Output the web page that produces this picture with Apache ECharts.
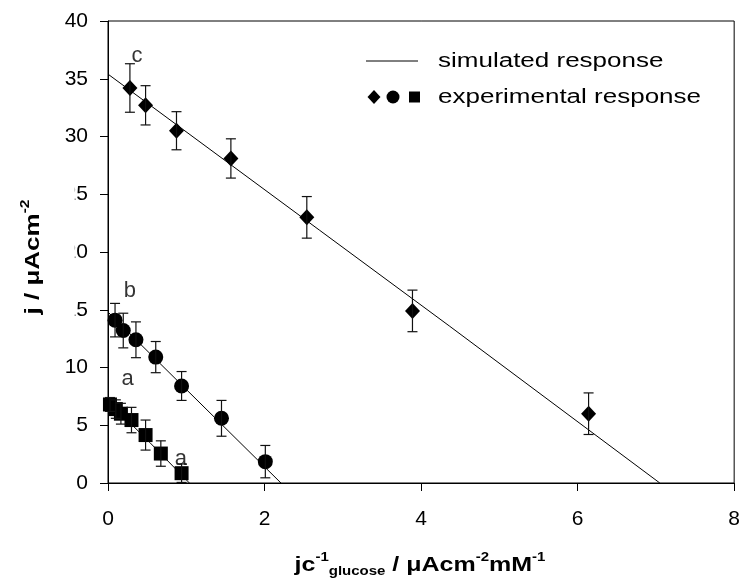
<!DOCTYPE html>
<html>
<head>
<meta charset="utf-8">
<script src="https://cdn.jsdelivr.net/npm/echarts@6/dist/echarts.min.js"></script>
<style>
  html, body { margin: 0; padding: 0; background: #fff; }
  #chart { width: 743px; height: 582px; }
</style>
</head>
<body>
<div id="chart"></div>
<script>
// Curve c (diamonds): x = jc^-1, y = j, with error half-widths
const cX   = [0.28, 0.48, 0.875, 1.57, 2.54, 3.89, 6.14];
const cY   = [34.2, 32.7, 30.5, 28.1, 23.0, 14.9, 6.0];
const cErr = [2.1, 1.7, 1.65, 1.7, 1.8, 1.8, 1.8];

// Curve b (circles)
const bX   = [0.09, 0.195, 0.357, 0.61, 0.94, 1.45, 2.01];
const bY   = [14.1, 13.2, 12.4, 10.9, 8.4, 5.6, 1.85];
const bErr = [1.45, 1.5, 1.55, 1.35, 1.25, 1.55, 1.4];

// Curve a (squares)
const aX   = [0.025, 0.10, 0.165, 0.30, 0.48, 0.675, 0.94];
const aY   = [6.8, 6.4, 6.0, 5.45, 4.15, 2.55, 0.85];
const aErr = [0.6, 0.8, 0.9, 1.1, 1.3, 1.1, 0.8];

// Simulated responses (x, y)
const simCX = [0, 2.70, 4.36, 7.05];
const simCY = [35.4, 21.9, 13.6, 0];
const simBX = [0, 1.0, 2.21];
const simBY = [14.8, 8.1, 0];
const simAX = [0, 0.535, 1.04];
const simAY = [7.1, 3.5, 0];

// Curve letters
const noteX    = [0.37, 0.28, 0.25, 0.93];
const noteY    = [37.0, 16.65, 9.0, 2.05];
const noteText = ['c', 'b', 'a', 'a'];

// Axis ranges and tick steps
const xRange = [0, 8], xStep = 2;
const yRange = [0, 40], yStep = 5;

const FONT = '"Liberation Sans", Arial, Helvetica, sans-serif';
const STRETCH = 1.3;

const pairs = (xs, ys) => xs.map((x, i) => [x, ys[i]]);
const triples = (xs, ys, es) => xs.map((x, i) => [x, ys[i], es[i]]);

function renderErrorBar(params, api) {
  const x = api.value(0), y = api.value(1), e = api.value(2);
  const top = api.coord([x, y + e]);
  const bot = api.coord([x, y - e]);
  const hw = 5;
  const style = { stroke: '#111', lineWidth: 1.2 };
  return {
    type: 'group',
    children: [
      { type: 'line', shape: { x1: top[0], y1: top[1], x2: bot[0], y2: bot[1] }, style },
      { type: 'line', shape: { x1: top[0] - hw, y1: top[1], x2: top[0] + hw, y2: top[1] }, style },
      { type: 'line', shape: { x1: bot[0] - hw, y1: bot[1], x2: bot[0] + hw, y2: bot[1] }, style }
    ]
  };
}

function errorSeries(xs, ys, es) {
  return {
    type: 'custom',
    renderItem: renderErrorBar,
    dimensions: ['x', 'y', 'err'],
    encode: { x: 0, y: 1 },
    data: triples(xs, ys, es),
    silent: true,
    z: 4
  };
}

function simSeries(xs, ys) {
  return {
    type: 'line',
    data: pairs(xs, ys),
    showSymbol: false,
    symbol: 'none',
    lineStyle: { color: '#000', width: 1 },
    silent: true,
    z: 2
  };
}

function pointSeries(xs, ys, symbol, size) {
  return {
    type: 'scatter',
    data: pairs(xs, ys),
    symbol: symbol,
    symbolSize: size,
    itemStyle: { color: '#000', opacity: 1 },
    silent: true,
    z: 3
  };
}

const supStyle = { fontFamily: FONT, fontWeight: 'bold', fontSize: 12, lineHeight: 12, verticalAlign: 'top', fill: '#000' };
const subStyle = { fontFamily: FONT, fontWeight: 'bold', fontSize: 12, lineHeight: 12, verticalAlign: 'bottom', fill: '#000' };
const mainStyle = { fontFamily: FONT, fontWeight: 'bold', fontSize: 20, lineHeight: 26, fill: '#000' };

const chart = echarts.init(document.getElementById('chart'));

chart.setOption({
  animation: false,
  backgroundColor: '#fff',
  grid: {
    left: 108, right: 8, top: 21, bottom: 99,
    show: true, borderColor: '#000', borderWidth: 1,
    backgroundColor: 'transparent'
  },
  xAxis: {
    type: 'value',
    min: xRange[0], max: xRange[1], interval: xStep,
    axisLine: { lineStyle: { color: '#000', width: 1 } },
    axisTick: { inside: false, length: 8, lineStyle: { color: '#000' } },
    axisLabel: { color: '#000', fontSize: 21, fontFamily: FONT, margin: 26 },
    splitLine: { show: false }
  },
  yAxis: {
    type: 'value',
    min: yRange[0], max: yRange[1], interval: yStep,
    axisLine: { lineStyle: { color: '#000', width: 1 } },
    axisTick: { inside: false, length: 8, lineStyle: { color: '#000' } },
    axisLabel: { color: '#000', fontSize: 21, fontFamily: FONT, margin: 20 },
    splitLine: { show: false }
  },
  series: [
    {
      type: 'scatter',
      data: noteX.map((x, i) => [x, noteY[i], noteText[i]]),
      symbolSize: 0,
      label: {
        show: true, position: 'inside',
        formatter: p => p.data[2],
        color: '#000', fontSize: 22, fontFamily: FONT
      },
      silent: true,
      z: 1
    },
    simSeries(simCX, simCY),
    simSeries(simBX, simBY),
    simSeries(simAX, simAY),
    pointSeries(cX, cY, 'diamond', [15, 16]),
    pointSeries(bX, bY, 'circle', 15),
    pointSeries(aX, aY, 'rect', 14),
    errorSeries(cX, cY, cErr),
    errorSeries(bX, bY, bErr),
    errorSeries(aX, aY, aErr)
  ],
  graphic: [
    // white box behind the y-axis title
    { type: 'rect', z: 100, shape: { x: 46, y: 180, width: 28.8, height: 160 }, style: { fill: '#fff' } },
    {
      type: 'text', z: 101, x: 33, y: 257, rotation: Math.PI / 2, scaleX: STRETCH,
      style: {
        text: '{m|j / μAcm}{sup|-2}',
        rich: { m: mainStyle, sup: supStyle },
        align: 'center', verticalAlign: 'middle'
      }
    },
    {
      type: 'text', z: 101, x: 420, y: 565, scaleX: 1.25,
      style: {
        text: '{m|jc}{sup|-1}{sub|glucose}{m| / μAcm}{sup|-2}{m|mM}{sup|-1}',
        rich: { m: mainStyle, sup: supStyle, sub: subStyle },
        align: 'center', verticalAlign: 'middle'
      }
    },
    // legend
    { type: 'line', z: 101, shape: { x1: 366, y1: 61, x2: 418, y2: 61 }, style: { stroke: '#000', lineWidth: 1 } },
    {
      type: 'text', z: 101, x: 438, y: 61, scaleX: STRETCH,
      style: { text: 'simulated response', fontFamily: FONT, fontSize: 20, fill: '#000', align: 'left', verticalAlign: 'middle' }
    },
    { type: 'polygon', z: 101, shape: { points: [[374, 90], [380.5, 97], [374, 104], [367.5, 97]] }, style: { fill: '#000' } },
    { type: 'circle', z: 101, shape: { cx: 393, cy: 97, r: 6.5 }, style: { fill: '#000' } },
    { type: 'rect', z: 101, shape: { x: 409, y: 91.5, width: 11, height: 11 }, style: { fill: '#000' } },
    {
      type: 'text', z: 101, x: 438, y: 97, scaleX: STRETCH,
      style: { text: 'experimental response', fontFamily: FONT, fontSize: 20, fill: '#000', align: 'left', verticalAlign: 'middle' }
    }
  ]
});
</script>
</body>
</html>
